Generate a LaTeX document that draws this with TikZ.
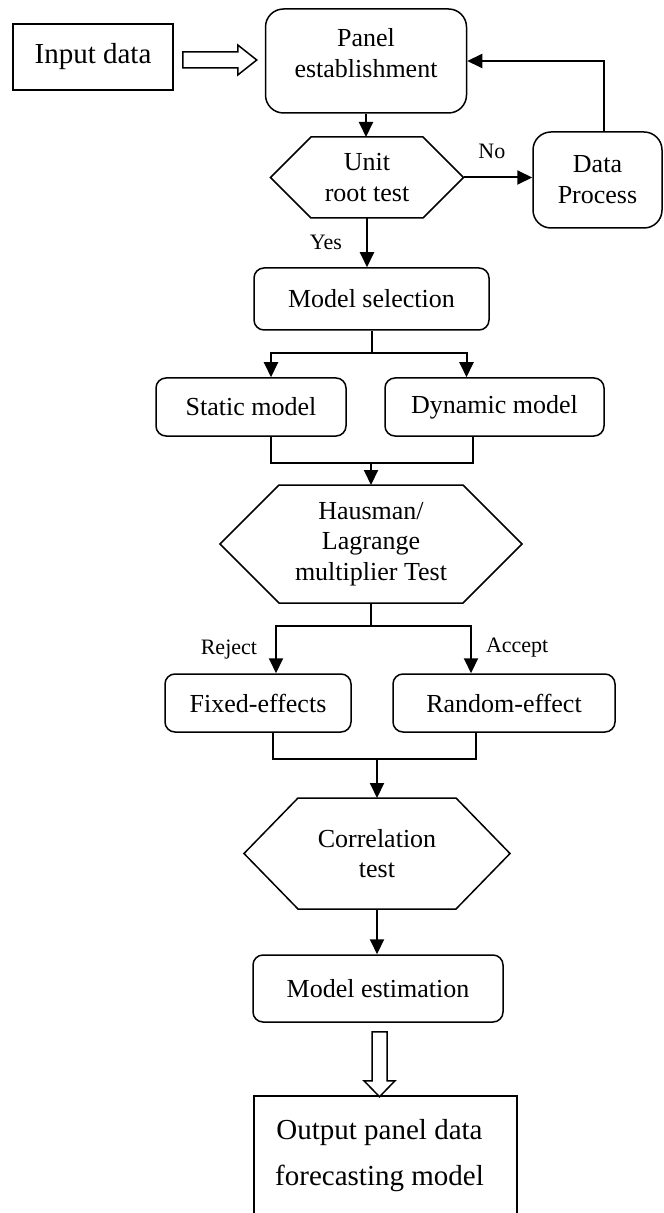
\documentclass[tikz,border=0pt]{standalone}
\usepackage{fontspec}
\setmainfont{Liberation Serif}
\usetikzlibrary{arrows.meta}
\tikzstyle{box}=[draw, line width=0.75pt, rounded corners=5pt, align=center, inner sep=2pt, font=\fontsize{13}{15.5}\selectfont]
\tikzstyle{bigbox}=[box, rounded corners=9pt]
\tikzstyle{sqbox}=[box, sharp corners, font=\fontsize{14.5}{23}\selectfont]
\tikzstyle{hexnode}=[align=center, inner sep=0pt, outer sep=0pt, font=\fontsize{13}{15.3}\selectfont]
\tikzstyle{hexline}=[draw, line width=0.75pt]
\tikzstyle{line}=[line width=1pt]
\tikzstyle{arr}=[line width=1pt, -{Triangle[length=7.5pt,width=7pt]}]
\tikzstyle{lbl}=[inner sep=0pt, font=\fontsize{11}{13}\selectfont]
\tikzstyle{hollow}=[draw, line width=0.75pt, fill=white]
% hexagon round a text node: name, inset
\newcommand\hexa[2]{\draw[hexline] (#1.west) -- ([xshift=#2]#1.north west) -- ([xshift=-#2]#1.north east) -- (#1.east) -- ([xshift=-#2]#1.south east) -- ([xshift=#2]#1.south west) -- cycle;}

\begin{document}
\begin{tikzpicture}[x=0.5pt, y=-0.5pt]
  \useasboundingbox (0,0) rectangle (663,1213);

  % boxes
  \node[sqbox, minimum width=80pt, minimum height=33pt] (inp) at (93,57) {Input data};
  \node[bigbox, minimum width=100.5pt, minimum height=52pt, text depth=8pt] (panel) at (366,61) {Panel\\establishment};
  \node[hexnode, minimum width=96.5pt, minimum height=40.5pt] (unit) at (367,177.5) {Unit\\root test};
  \hexa{unit}{20.25pt}
  \node[bigbox, minimum width=64.5pt, minimum height=48pt] (proc) at (597.5,180) {Data\\Process};
  \node[box, minimum width=117.5pt, minimum height=31pt] (msel) at (371.5,299) {Model selection};
  \node[box, minimum width=95pt, minimum height=29pt] (static) at (251,407) {Static model};
  \node[box, minimum width=109.5pt, minimum height=29pt] (dyn) at (494.5,407) {Dynamic model};
  \node[hexnode, minimum width=151pt, minimum height=59pt] (haus) at (371,544) {Hausman/\\Lagrange\\multiplier Test};
  \hexa{haus}{29.5pt}
  \node[box, minimum width=93pt, minimum height=29pt] (fixed) at (258,703) {Fixed-effects};
  \node[box, minimum width=111pt, minimum height=29pt] (rand) at (504,703) {Random-effect};
  \node[hexnode, minimum width=133pt, minimum height=55.5pt] (corr) at (377,853.5) {Correlation\\test};
  \hexa{corr}{27pt}
  \node[box, minimum width=125pt, minimum height=33.5pt] (est) at (378,988.5) {Model estimation};
  \node[sqbox, minimum width=131.5pt, minimum height=60pt] (out) at (385.5,1156) {Output panel data\hspace*{6pt}\\forecasting model\hspace*{6pt}};

  % connectors
  \draw[hollow] ([shift={(9,-5)}]inp.east) -- ++(55,0) -- ++(0,-7) -- ++(19,15) -- ++(-19,15) -- ++(0,-7) -- ++(-55,0) -- cycle;
  \draw[arr] (panel.south) -- (panel.south |- unit.north);
  \draw[arr] (unit.east) -- node[lbl, midway, above=9pt, xshift=-3pt] {No} (proc.west |- unit.east);
  \draw[arr] ([xshift=3pt]proc.north) |- (panel.east);
  \draw[arr] (unit.south) -- node[lbl, midway, left=12pt] {Yes} (unit.south |- msel.north);

  \path (msel.south) ++(0,22) coordinate (fork1);
  \draw[line] (msel.south) -- (fork1);
  \draw[arr] (fork1) -| ([xshift=10pt]static.north);
  \draw[arr] (fork1) -| ([xshift=-14pt]dyn.north);
  \draw[line] ([xshift=10pt]static.south) -- ++(0,26) -| ([xshift=-11pt]dyn.south);
  \path (static.south -| haus.north) ++(0,26) coordinate (join1);
  \draw[arr] (join1) -- (haus.north);

  \path (haus.south) ++(0,23) coordinate (fork2);
  \draw[line] (haus.south) -- (fork2);
  \draw[arr] (fork2) -| node[lbl, pos=0.75, left=9pt] {Reject} ([xshift=9pt]fixed.north);
  \draw[arr] (fork2) -| node[lbl, pos=0.73, right=7pt] {Accept} ([xshift=-16.5pt]rand.north);
  \draw[line] ([xshift=7.5pt]fixed.south) -- ++(0,26) -| ([xshift=-14pt]rand.south);
  \path (fixed.south -| corr.north) ++(0,26) coordinate (join2);
  \draw[arr] (join2) -- (corr.north);

  \draw[arr] (corr.south) -- (corr.south |- est.north);
  \draw[hollow] ([shift={(-6,9)}]est.south) -- ++(0,49) -- ++(-8,0) -- ++(15.5,16) -- ++(15.5,-16) -- ++(-8,0) -- ++(0,-49) -- cycle;
\end{tikzpicture}
\end{document}
